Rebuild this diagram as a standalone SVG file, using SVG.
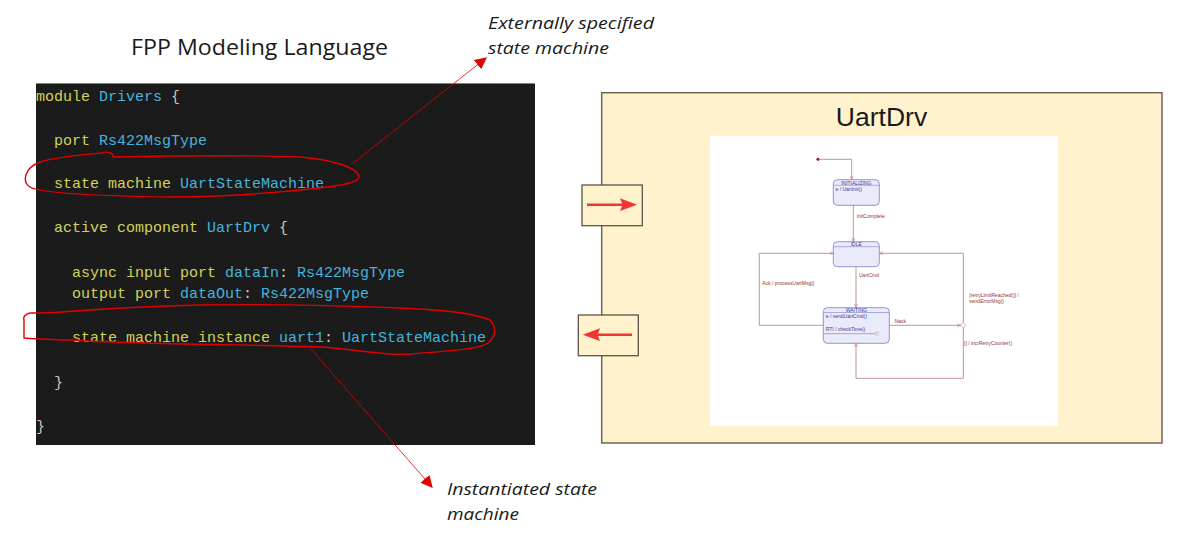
<svg xmlns="http://www.w3.org/2000/svg" width="1197" height="537" viewBox="0 0 1197 537">
<defs>
<style>
.code{font-family:"Liberation Mono","DejaVu Sans Mono",monospace;font-size:15px;white-space:pre}
.kw{fill:#d2d25a}
.id{fill:#45b4de}
.pn{fill:#cfc9b0}
.note{font-family:"Open Sans","Noto Sans",sans-serif;font-style:italic;font-size:16.5px;fill:#1a1a1a}
.hand{fill:none;stroke:#e00000;stroke-width:1.4;stroke-linecap:round;stroke-linejoin:round}
.lead{stroke:#e00000;stroke-width:0.8;fill:none}
.st{fill:#e9ebfb;stroke:#7c7cc4;stroke-width:0.8}
.sttitle{font-family:"Liberation Sans",Arial,sans-serif;font-size:5px;fill:#3a3a9a;text-anchor:middle}
.sttxt{font-family:"Liberation Sans",Arial,sans-serif;font-size:5px;fill:#3a3a9a}
.tr{fill:none;stroke:#b87878;stroke-width:0.8}
.lbl{font-family:"Liberation Sans",Arial,sans-serif;font-size:5px;fill:#9a3030}
.port{fill:#fff2cc;stroke:#5a5448;stroke-width:1.3}
.parrow{fill:#f03535}
</style>
<marker id="leadhead" viewBox="0 0 10 10" refX="9" refY="5" markerWidth="12" markerHeight="12" markerUnits="userSpaceOnUse" orient="auto">
<path d="M0,0 L10,5 L0,10 Z" fill="#e00000"/>
</marker>
<marker id="trhead" viewBox="0 0 10 10" refX="9.5" refY="5" markerWidth="4" markerHeight="4" markerUnits="userSpaceOnUse" orient="auto">
<path d="M0,1 L9.5,5 L0,9" fill="none" stroke="#b87878" stroke-width="1.5"/>
</marker>
</defs>

<rect x="0" y="0" width="1197" height="537" fill="#ffffff"/>

<g id="title">
<text x="131" y="55" font-family="'Open Sans','Noto Sans',sans-serif" font-size="22" fill="#1a1a1a" textLength="257" lengthAdjust="spacingAndGlyphs">FPP Modeling Language</text>
</g>

<g id="code-block">
<rect x="36" y="83" width="499" height="362" fill="#1b1b1b"/>
<line x1="36" y1="83.5" x2="535" y2="83.5" stroke="#9a9a9a" stroke-width="0.8"/>
<text class="code" x="36" y="101"><tspan class="kw">module</tspan><tspan class="id"> Drivers</tspan><tspan class="pn"> {</tspan></text>
<text class="code" x="54" y="145"><tspan class="kw">port</tspan><tspan class="id"> Rs422MsgType</tspan></text>
<text class="code" x="54" y="188"><tspan class="kw">state machine</tspan><tspan class="id"> UartStateMachine</tspan></text>
<text class="code" x="54" y="232"><tspan class="kw">active component</tspan><tspan class="id"> UartDrv</tspan><tspan class="pn"> {</tspan></text>
<text class="code" x="72" y="277"><tspan class="kw">async input port</tspan><tspan class="id"> dataIn</tspan><tspan class="pn">:</tspan><tspan class="id"> Rs422MsgType</tspan></text>
<text class="code" x="72" y="298"><tspan class="kw">output port</tspan><tspan class="id"> dataOut</tspan><tspan class="pn">:</tspan><tspan class="id"> Rs422MsgType</tspan></text>
<text class="code" x="72" y="342"><tspan class="kw">state machine instance</tspan><tspan class="id"> uart1</tspan><tspan class="pn">:</tspan><tspan class="id"> UartStateMachine</tspan></text>
<text class="code" x="54" y="387"><tspan class="pn">}</tspan></text>
<text class="code" x="36" y="431"><tspan class="pn">}</tspan></text>
</g>

<g id="highlight-marks">
<path class="hand" d="M113,157 C160,156 250,155 300,157 C335,160 358,168 359,177 C359,183 340,186 300,190 C250,195 200,197 170,197 C100,196 40,193 30,187 C22,182 24,168 40,162 C55,157 80,155 102,153 C107,151 114,153 113,157"/>
<path class="hand" d="M30,313 C25,314 23,317 24,320 L24,338 C40,339 55,340 70,340 C150,345 250,344 320,347 C360,349 380,356 410,354 C450,351 480,349 488,343 C497,336 496,326 490,320 C470,312 440,310 400,308 C330,305 260,304 200,305 C150,306 100,309 62,312 C50,313 40,313 30,313"/>
</g>

<g id="annotations">
<line class="lead" x1="352" y1="164" x2="486" y2="58" marker-end="url(#leadhead)"/>
<text class="note" x="488" y="29" textLength="166" lengthAdjust="spacingAndGlyphs">Externally specified</text>
<text class="note" x="488" y="54" textLength="121" lengthAdjust="spacingAndGlyphs">state machine</text>
<line class="lead" x1="311" y1="349" x2="432" y2="487" marker-end="url(#leadhead)"/>
<text class="note" x="447" y="495" textLength="150" lengthAdjust="spacingAndGlyphs">Instantiated state</text>
<text class="note" x="447" y="520" textLength="72" lengthAdjust="spacingAndGlyphs">machine</text>
</g>

<g id="component-UartDrv">
<rect x="601.7" y="92.7" width="560.3" height="350.3" fill="#fff2cc" stroke="#6e6658" stroke-width="1.5"/>
<text x="881.5" y="125.7" font-family="'Liberation Sans',Arial,sans-serif" font-size="26.5" fill="#1a1a1a" text-anchor="middle">UartDrv</text>
<rect x="710" y="136" width="348" height="290" fill="#ffffff"/>
</g>

<g id="port-dataIn">
<rect class="port" x="582" y="185" width="60.3" height="40.7"/>
<path class="parrow" d="M587,203.5 L622,203.5 L620,198.3 L637,204.7 L620,211.1 L622,205.9 L587,205.9 Z"/>
</g>
<g id="port-dataOut">
<rect class="port" x="578.3" y="315" width="60" height="40.7"/>
<path class="parrow" d="M632,333.5 L598,333.5 L600,328.3 L582.7,334.7 L600,341.1 L598,335.9 L632,335.9 Z"/>
</g>

<g id="state-initial">
<circle cx="818" cy="159.3" r="1.5" fill="#8b0000"/>
</g>
<g id="state-INITIALIZING">
<rect class="st" x="833.3" y="179.7" width="46" height="25.6" rx="4"/>
<line x1="833.3" y1="185.3" x2="879.3" y2="185.3" stroke="#7c7cc4" stroke-width="0.6"/>
<text class="sttitle" x="856.3" y="184.5">INITIALIZING</text>
<text class="sttxt" x="835.5" y="190.5">e / UartInit()</text>
</g>
<g id="state-IDLE">
<rect class="st" x="833.3" y="241.7" width="46" height="25" rx="4"/>
<line x1="833.3" y1="246.7" x2="879.3" y2="246.7" stroke="#7c7cc4" stroke-width="0.6"/>
<text class="sttitle" x="856.3" y="246">IDLE</text>
</g>
<g id="state-WAITING">
<rect class="st" x="823.3" y="307.7" width="66" height="35.6" rx="4"/>
<line x1="823.3" y1="312.5" x2="889.3" y2="312.5" stroke="#7c7cc4" stroke-width="0.6"/>
<text class="sttitle" x="856.3" y="312">WAITING</text>
<text class="sttxt" x="825.8" y="318">e / sendUartCmd()</text>
<text class="sttxt" x="825.8" y="331">RTI / checkTime()</text>
<line x1="824" y1="333.7" x2="875.2" y2="333.7" stroke="#b87878" stroke-width="0.7"/>
<circle cx="876.7" cy="333.7" r="1.5" fill="#ffffff" stroke="#b87878" stroke-width="0.6"/>
</g>
<g id="state-choice">
<path d="M963.3,322.6 L966,325.3 L963.3,328 L960.6,325.3 Z" fill="#ffffff" stroke="#b87878" stroke-width="0.6"/>
</g>

<g id="connectors">
<polyline class="tr" points="818,159.3 851.7,159.3 851.7,179.7" marker-end="url(#trhead)"/>
<line class="tr" x1="853.3" y1="205.3" x2="853.3" y2="241.7" marker-end="url(#trhead)"/>
<line class="tr" x1="856" y1="266.7" x2="856" y2="307.7" marker-end="url(#trhead)"/>
<polyline class="tr" points="823.3,325.3 759.3,325.3 759.3,253.3 833.3,253.3" marker-end="url(#trhead)"/>
<line class="tr" x1="889.3" y1="325.3" x2="960.6" y2="325.3" marker-end="url(#trhead)"/>
<polyline class="tr" points="963.3,322.6 963.3,253.3 879.3,253.3" marker-end="url(#trhead)"/>
<polyline class="tr" points="963.3,328 963.3,378.3 856,378.3 856,343.3" marker-end="url(#trhead)"/>
<text class="lbl" x="856.7" y="218">InitComplete</text>
<text class="lbl" x="859" y="276.5">UartCmd</text>
<text class="lbl" x="762.3" y="284.5">Ack / processUartMsg()</text>
<text class="lbl" x="894.7" y="322.5">Nack</text>
<text class="lbl" x="969.3" y="296.5">[retryLimitReached()] /</text>
<text class="lbl" x="969.3" y="302.8">sendErrorMsg()</text>
<text class="lbl" x="964" y="345.2">[] / incrRetryCounter()</text>
</g>
</svg>
